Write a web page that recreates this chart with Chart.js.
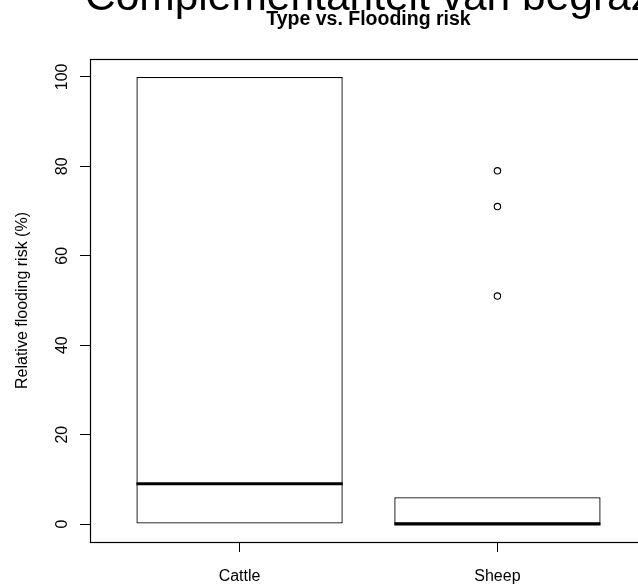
<!DOCTYPE html>
<html>
<head>
<meta charset="utf-8">
<script src="https://cdn.jsdelivr.net/npm/chart.js@4"></script>
<style>
  html, body { margin: 0; padding: 0; overflow: hidden; background: #fff; }
  canvas { display: block; }
</style>
</head>
<body>
<canvas id="floodChart" width="660" height="584"></canvas>
<script>
const categories = ["Cattle", "Sheep"];
const positions = [1, 2];
const lowerWhisker = [0, 0];
const q1 = [0, 0];
const medians = [9, 0];
const q3 = [100, 6];
const upperWhisker = [100, 6];
const outlierPos = [2, 2, 2];
const outlierValues = [51, 71, 79];
const yTicks = [0, 20, 40, 60, 80, 100];

const bigTitle = "Complementariteit van begrazing";
const mainTitle = "Type vs. Flooding risk";
const yLabel = "Relative flooding risk (%)";

const FONT = "'Liberation Sans', Arial, sans-serif";

// R-ish extras: median, whiskers, frame, rotated y labels, titles
const rBoxPlugin = {
    id: "rBox",
    afterDatasetsDraw(chart) {
        const { ctx } = chart;
        const y = chart.scales.y;
        const meta = chart.getDatasetMeta(0);
        ctx.save();
        ctx.strokeStyle = "#000";
        meta.data.forEach((bar, i) => {
            const half = bar.width / 2;
            ctx.lineWidth = 1;
            // whiskers only show when they reach past the box
            if (upperWhisker[i] > q3[i]) {
                const top = y.getPixelForValue(upperWhisker[i]);
                ctx.setLineDash([4, 3]);
                ctx.beginPath();
                ctx.moveTo(bar.x, y.getPixelForValue(q3[i]));
                ctx.lineTo(bar.x, top);
                ctx.stroke();
                ctx.setLineDash([]);
                ctx.beginPath();
                ctx.moveTo(bar.x - half / 2, top);
                ctx.lineTo(bar.x + half / 2, top);
                ctx.stroke();
            }
            if (lowerWhisker[i] < q1[i]) {
                const bot = y.getPixelForValue(lowerWhisker[i]);
                ctx.setLineDash([4, 3]);
                ctx.beginPath();
                ctx.moveTo(bar.x, y.getPixelForValue(q1[i]));
                ctx.lineTo(bar.x, bot);
                ctx.stroke();
                ctx.setLineDash([]);
                ctx.beginPath();
                ctx.moveTo(bar.x - half / 2, bot);
                ctx.lineTo(bar.x + half / 2, bot);
                ctx.stroke();
            }
            // median
            ctx.lineWidth = 3;
            ctx.beginPath();
            const my = y.getPixelForValue(medians[i]);
            ctx.moveTo(bar.x - half, my);
            ctx.lineTo(bar.x + half, my);
            ctx.stroke();
        });
        ctx.restore();
    },
    afterDraw(chart) {
        const { ctx, chartArea } = chart;
        const y = chart.scales.y;
        ctx.save();
        ctx.strokeStyle = "#000";
        ctx.lineWidth = 1.2;
        ctx.strokeRect(
            Math.round(chartArea.left) + 0.5,
            Math.round(chartArea.top) + 0.5,
            Math.round(chartArea.right - chartArea.left),
            Math.round(chartArea.bottom - chartArea.top)
        );

        ctx.fillStyle = "#000";
        ctx.font = "16px " + FONT;
        ctx.textAlign = "center";
        ctx.textBaseline = "middle";
        yTicks.forEach((v) => {
            ctx.save();
            ctx.translate(63, y.getPixelForValue(v));
            ctx.rotate(-Math.PI / 2);
            ctx.fillText(String(v), 0, 0);
            ctx.restore();
        });

        ctx.save();
        ctx.translate(23, (chartArea.top + chartArea.bottom) / 2);
        ctx.rotate(-Math.PI / 2);
        ctx.fillText(yLabel, 0, 0);
        ctx.restore();

        ctx.textBaseline = "alphabetic";
        ctx.font = "42.5px " + FONT;
        ctx.textAlign = "left";
        ctx.fillText(bigTitle, 85, 10);

        ctx.font = "bold 19.5px " + FONT;
        ctx.textAlign = "center";
        ctx.fillText(mainTitle, (chartArea.left + chartArea.right) / 2, 25);
        ctx.restore();
    },
};

const chart = new Chart(document.getElementById("floodChart"), {
    type: "bar",
    data: {
        datasets: [
            {
                data: positions.map((p, i) => ({ x: p, y: [q1[i], q3[i]] })),
                backgroundColor: "#fff",
                borderColor: "#000",
                borderWidth: 1.3,
                borderSkipped: false,
                barPercentage: 0.8,
                categoryPercentage: 1,
                grouped: false,
            },
            {
                type: "scatter",
                data: outlierPos.map((p, i) => ({ x: p, y: outlierValues[i] })),
                pointStyle: "circle",
                pointRadius: 3.2,
                borderColor: "#000",
                backgroundColor: "rgba(0,0,0,0)",
                borderWidth: 1.1,
            },
        ],
    },
    options: {
        responsive: false,
        devicePixelRatio: 1,
        animation: false,
        layout: { padding: { top: 59, left: 0, right: 13, bottom: 0 } },
        plugins: {
            legend: { display: false },
            tooltip: { enabled: false },
        },
        scales: {
            x: {
                type: "linear",
                min: 0.42,
                max: 2.58,
                offset: false,
                afterBuildTicks: (scale) => {
                    scale.ticks = positions.map((p) => ({ value: p }));
                },
                afterFit: (scale) => {
                    scale.height = 42;
                },
                border: { display: false },
                grid: { offset: false, drawOnChartArea: false, drawTicks: true, tickLength: 10, color: "#000" },
                ticks: {
                    color: "#000",
                    font: { family: FONT, size: 16 },
                    padding: 15,
                    maxRotation: 0,
                    callback: (value) => categories[positions.indexOf(value)] ?? "",
                },
            },
            y: {
                type: "linear",
                min: -4,
                max: 104,
                afterBuildTicks: (scale) => {
                    scale.ticks = yTicks.map((v) => ({ value: v }));
                },
                afterFit: (scale) => {
                    scale.width = 90;
                },
                border: { display: false },
                grid: { drawOnChartArea: false, drawTicks: true, tickLength: 10, color: "#000" },
                ticks: { display: false },
            },
        },
    },
    plugins: [rBoxPlugin],
});
</script>
</body>
</html>
